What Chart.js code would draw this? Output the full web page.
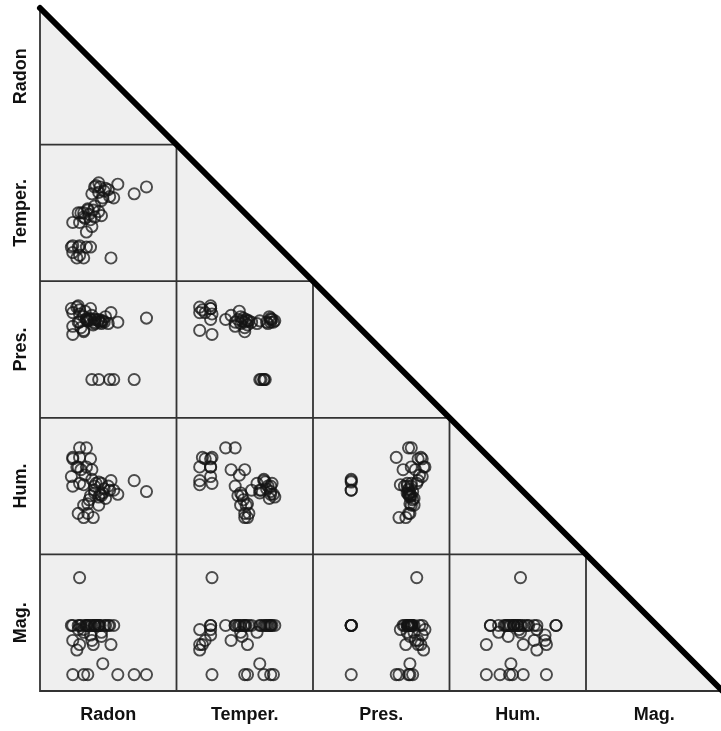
<!DOCTYPE html>
<html>
<head>
<meta charset="utf-8">
<title>Scatter matrix</title>
<script src="https://cdn.jsdelivr.net/npm/chart.js@4.4.0/dist/chart.umd.min.js"></script>
<style>
  html, body { margin: 0; padding: 0; background: #fff; overflow: hidden; }
  #wrap { width: 721px; height: 731px; overflow: hidden; }
</style>
</head>
<body>
<div id="wrap"><canvas id="chart" width="730" height="731"></canvas></div>
<script>
// Variables (matrix order) and per-observation values,
// given as position within each variable's plotted range (0-100)
const variables = ['Radon', 'Temper.', 'Pres.', 'Hum.', 'Mag.'];

const radon  = [40, 44, 48, 38, 43, 46, 51, 54, 45, 57, 69, 78, 35, 39, 43, 28, 32, 45, 24, 29, 37, 38, 34,
                40, 23, 28, 34, 37, 24, 29, 27, 32, 52, 24, 32, 35, 29, 41, 47, 43, 50, 40, 36, 33, 30];
const temper = [69, 69, 68, 64, 65, 61, 62, 61, 59, 71, 64, 69, 53, 52, 51, 50, 47, 48, 43, 43, 45, 40, 36,
                47, 25, 25, 25, 25, 21, 19, 17, 17, 17, 26, 50, 52, 26, 70, 66, 72, 67, 55, 49, 46, 50];
const pres   = [72, 70, 74, 28, 28, 71, 28, 28, 69, 70, 28, 73, 71, 68, 72, 70, 74, 71, 67, 70, 72, 75, 72,
                69, 80, 82, 72, 80, 77, 79, 81, 64, 77, 61, 63, 71, 76, 72, 70, 71, 69, 70, 73, 78, 66];
const hum    = [50, 44, 41, 55, 53, 45, 47, 47, 52, 44, 54, 46, 30, 27, 36, 30, 36, 43, 50, 78, 43, 62, 78,
                45, 57, 64, 64, 70, 70, 71, 64, 51, 54, 71, 27, 37, 52, 52, 48, 42, 50, 47, 40, 58, 62];
const mag    = [48, 48, 48, 48, 48, 20, 48, 48, 43, 12, 12, 12, 48, 34, 48, 48, 43, 40, 48, 48, 48, 37, 48,
                48, 48, 45, 48, 41, 37, 34, 30, 45, 34, 12, 12, 12, 83, 48, 48, 48, 48, 48, 48, 48, 48];

const series = [radon, temper, pres, hum, mag];
const n = variables.length;

// one dataset per lower-triangle panel: column variable on x, row variable on y
const datasets = [];
for (let r = 1; r < n; r++) {
    for (let c = 0; c < r; c++) {
        datasets.push({
            label: variables[c] + ' vs ' + variables[r],
            data: series[c].map((v, i) => ({ x: c + v / 100, y: n - 1 - r + series[r][i] / 100 })),
            pointRadius: 5.6,
            pointBorderWidth: 1.9,
            pointBorderColor: 'rgba(20, 20, 20, 0.75)',
            pointBackgroundColor: 'rgba(0, 0, 0, 0)',
            showLine: false,
        });
    }
}

const labelFont = 'bold 18px "Liberation Sans", Arial, sans-serif';

const matrixPlugin = {
    id: 'matrix',
    beforeDatasetsDraw(chart) {
        const { ctx, scales: { x, y } } = chart;
        const px = v => x.getPixelForValue(v);
        const py = v => y.getPixelForValue(v);

        ctx.save();
        // grey lower triangle
        ctx.fillStyle = '#efefef';
        ctx.beginPath();
        ctx.moveTo(px(0), py(n));
        ctx.lineTo(px(0), py(0));
        ctx.lineTo(px(n), py(0));
        ctx.closePath();
        ctx.fill();

        // cell borders, cut at the diagonal
        ctx.strokeStyle = '#333';
        ctx.lineWidth = 1.8;
        ctx.beginPath();
        for (let k = 1; k < n; k++) {
            ctx.moveTo(px(0), py(k));
            ctx.lineTo(px(n - k), py(k));
            ctx.moveTo(px(k), py(0));
            ctx.lineTo(px(k), py(n - k));
        }
        ctx.moveTo(px(0), py(n));
        ctx.lineTo(px(0), py(0));
        ctx.lineTo(px(n), py(0));
        ctx.stroke();
        ctx.restore();
    },
    afterDatasetsDraw(chart) {
        const { ctx, scales: { x, y } } = chart;
        const px = v => x.getPixelForValue(v);
        const py = v => y.getPixelForValue(v);

        ctx.save();
        // heavy diagonal
        ctx.strokeStyle = '#000';
        ctx.lineWidth = 6;
        ctx.lineCap = 'round';
        ctx.beginPath();
        ctx.moveTo(px(0), py(n));
        ctx.lineTo(px(n), py(0));
        ctx.stroke();

        // variable names
        ctx.fillStyle = '#111';
        ctx.font = labelFont;
        ctx.textAlign = 'center';
        ctx.textBaseline = 'middle';
        variables.forEach((name, i) => {
            ctx.fillText(name, px(i + 0.5), py(0) + 24);

            ctx.save();
            ctx.translate(px(0) - 19, py(n - 1 - i + 0.5));
            ctx.rotate(-Math.PI / 2);
            ctx.fillText(name, 0, 0);
            ctx.restore();
        });
        ctx.restore();
    },
};

new Chart(document.getElementById('chart'), {
    type: 'scatter',
    data: { datasets },
    options: {
        responsive: false,
        animation: false,
        layout: { padding: { left: 40, top: 8, right: 7, bottom: 40 } },
        scales: {
            x: { type: 'linear', min: 0, max: n, display: false },
            y: { type: 'linear', min: 0, max: n, display: false },
        },
        plugins: {
            legend: { display: false },
            tooltip: { enabled: false },
        },
    },
    plugins: [matrixPlugin],
});
</script>
</body>
</html>
